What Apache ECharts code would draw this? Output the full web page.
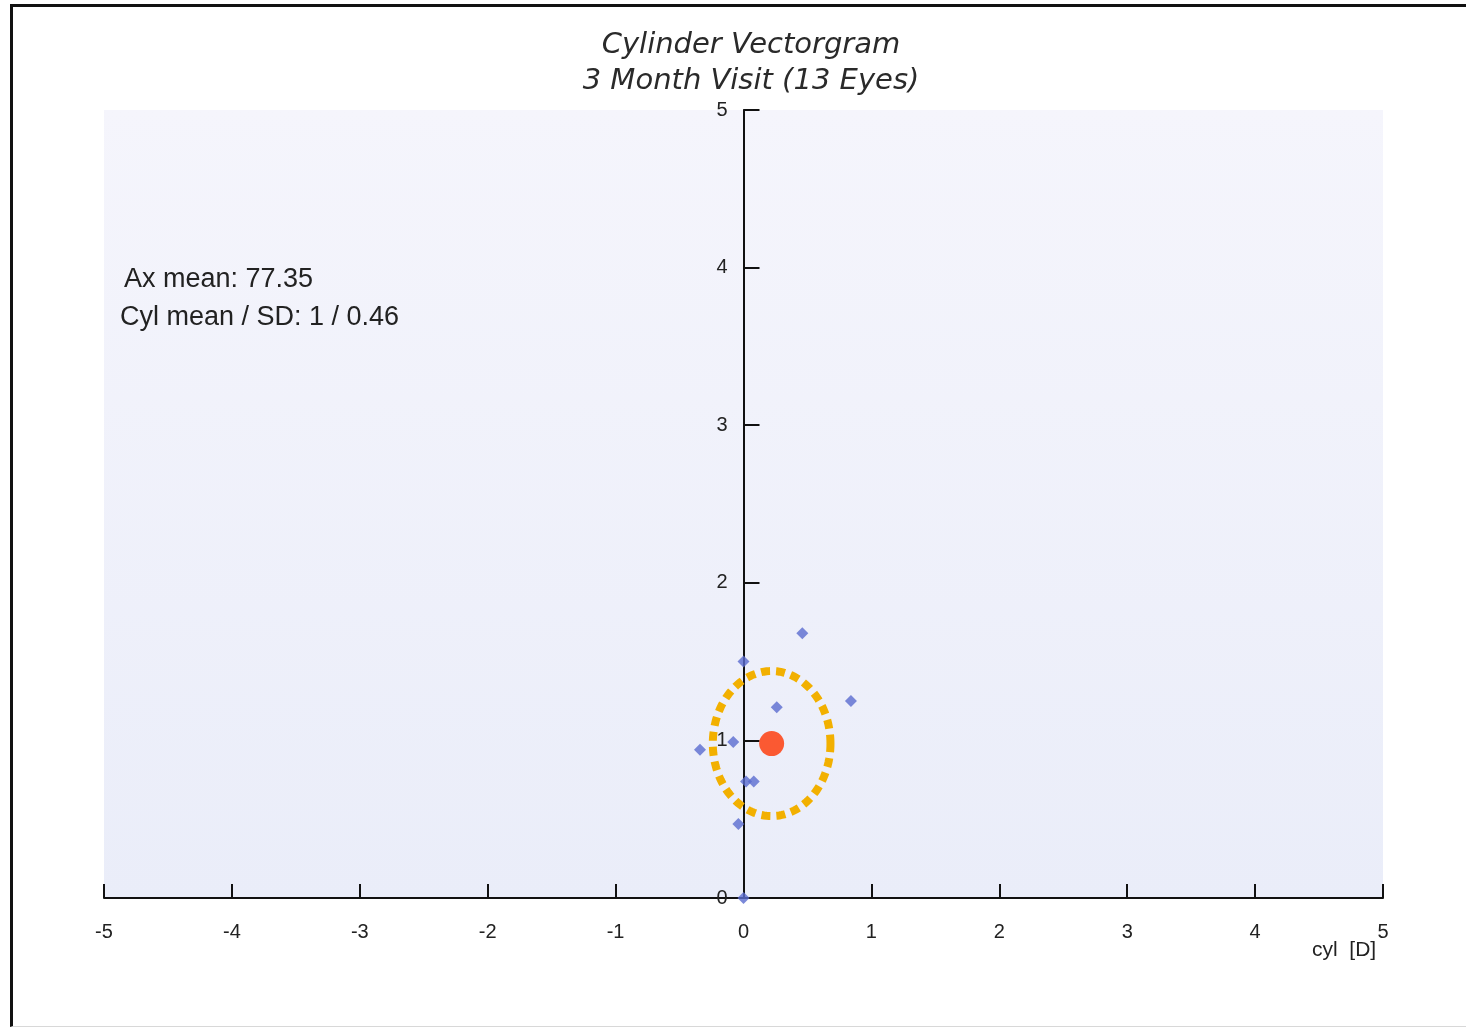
<!DOCTYPE html>
<html>
<head>
<meta charset="utf-8">
<title>Cylinder Vectorgram</title>
<script src="https://cdn.jsdelivr.net/npm/echarts@6/dist/echarts.min.js"></script>
<style>
  html, body { margin: 0; padding: 0; background: #ffffff; }
  #chart { position: absolute; left: 0; top: 0; width: 1466px; height: 1028px; }
  #frame {
    position: absolute; left: 10px; top: 4px; width: 1460px; height: 1019px;
    border-left: 3px solid #111; border-top: 3px solid #111; border-bottom: 1px solid #d8d8d8;
    pointer-events: none;
  }
</style>
</head>
<body>
<div id="chart"></div>
<div id="frame"></div>
<script>
// Individual eyes: cylinder vector components [x, y] in dioptres
const eyePoints = [
  [0.46, 1.68],
  [0.00, 1.50],
  [0.26, 1.21],
  [0.84, 1.25],
  [-0.08, 0.99],
  [-0.34, 0.94],
  [0.02, 0.74],
  [0.08, 0.74],
  [-0.04, 0.47],
  [0.00, 0.00]
];

// Mean vector and its standard-deviation circle [x, y, radius]
const meanPoint = [[0.22, 0.98]];
const sdCircle = [[0.22, 0.98, 0.46]];

// Axis ticks
const xTicks = [-5, -4, -3, -2, -1, 0, 1, 2, 3, 4, 5];
const yTicks = [0, 1, 2, 3, 4, 5];

// Summary text
const titleLines = ['Cylinder Vectorgram', '3 Month Visit (13 Eyes)'];
const statLines = ['Ax mean: 77.35', 'Cyl mean / SD: 1 / 0.46'];
const xAxisName = 'cyl  [D]';

const chart = echarts.init(document.getElementById('chart'), null, { renderer: 'canvas' });

const axisFont = { fontFamily: 'Liberation Sans, Arial, sans-serif', fontSize: 20, color: '#222' };

const gridLeft = 104, gridRight = 83;
const plotWidth = 1466 - gridLeft - gridRight;
// shift the vertical axis (with its labels) to x = 0
const yAxisOffset = -plotWidth * (0 - xTicks[0]) / (xTicks[xTicks.length - 1] - xTicks[0]);

const option = {
  backgroundColor: '#ffffff',
  animation: false,
  title: {
    text: titleLines.join('\n'),
    left: 746,
    textAlign: 'center',
    top: 22,
    textStyle: {
      fontFamily: 'DejaVu Sans, Verdana, sans-serif',
      fontStyle: 'italic',
      fontWeight: 'normal',
      fontSize: 29,
      lineHeight: 36,
      color: '#2a2a2a'
    }
  },
  grid: {
    left: gridLeft,
    right: gridRight,
    top: 110,
    bottom: 130,
    show: true,
    borderWidth: 0,
    backgroundColor: {
      type: 'linear', x: 0, y: 0, x2: 0, y2: 1,
      colorStops: [
        { offset: 0, color: '#f5f5fc' },
        { offset: 1, color: '#eaedf9' }
      ]
    }
  },
  xAxis: {
    type: 'value',
    min: xTicks[0],
    max: xTicks[xTicks.length - 1],
    interval: 1,
    axisLine: { onZero: false, lineStyle: { color: '#111', width: 2 } },
    axisTick: { show: true, inside: true, length: 14, lineStyle: { color: '#111', width: 2 } },
    axisLabel: Object.assign({}, axisFont, { margin: 24 }),
    splitLine: { show: false }
  },
  yAxis: {
    type: 'value',
    min: yTicks[0],
    max: yTicks[yTicks.length - 1],
    interval: 1,
    offset: yAxisOffset,
    axisLine: { show: true, onZero: false, lineStyle: { color: '#111', width: 2 } },
    axisTick: { show: true, inside: true, length: 16, lineStyle: { color: '#111', width: 2 } },
    axisLabel: Object.assign({}, axisFont, { margin: 16 }),
    splitLine: { show: false }
  },
  graphic: [
    {
      type: 'text',
      left: 124,
      top: 266,
      style: {
        text: statLines[0],
        font: '27px "Liberation Sans", Arial, sans-serif',
        fill: '#222'
      }
    },
    {
      type: 'text',
      left: 120,
      top: 304,
      style: {
        text: statLines[1],
        font: '27px "Liberation Sans", Arial, sans-serif',
        fill: '#222'
      }
    },
    {
      type: 'text',
      left: 1312,
      top: 940,
      style: {
        text: xAxisName,
        font: '21px "Liberation Sans", Arial, sans-serif',
        fill: '#222'
      }
    }
  ],
  series: [
    {
      name: 'SD circle',
      type: 'custom',
      data: sdCircle,
      z: 2,
      renderItem: function (params, api) {
        const cx = api.value(0), cy = api.value(1), r = api.value(2);
        const pts = [];
        const n = 144;
        for (let i = 0; i < n; i++) {
          const a = (i / n) * Math.PI * 2;
          pts.push(api.coord([cx + r * Math.cos(a), cy + r * Math.sin(a)]));
        }
        return {
          type: 'polygon',
          shape: { points: pts },
          style: {
            fill: 'none',
            stroke: '#f2b000',
            lineWidth: 8,
            lineDash: [9, 6],
            lineCap: 'butt'
          }
        };
      }
    },
    {
      name: 'Eyes',
      type: 'scatter',
      data: eyePoints,
      symbol: 'diamond',
      symbolSize: 12,
      z: 3,
      itemStyle: { color: '#5a6bcf' }
    },
    {
      name: 'Mean',
      type: 'scatter',
      data: meanPoint,
      symbol: 'circle',
      symbolSize: 25,
      z: 4,
      itemStyle: { color: '#ff3300' }
    }
  ]
};

chart.setOption(option);
</script>
</body>
</html>
